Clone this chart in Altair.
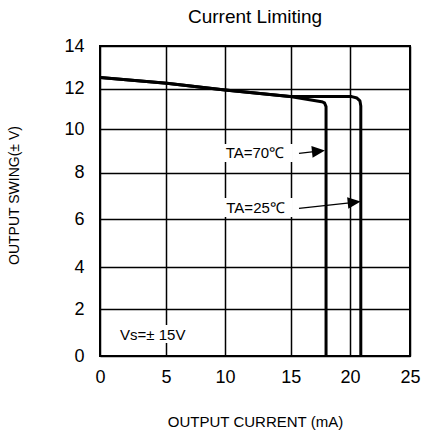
import altair as alt
import pandas as pd

# ---- data ----
x_ticks = [0, 5, 10, 15, 20, 25]
y_ticks = [0, 2, 4, 6, 8, 10, 12, 14]

# TA = 70 C curve (output current mA, output swing V)
current_70 = [0, 5.06, 10, 14.95, 17.61, 17.85, 17.98, 17.98]
swing_70 = [12.53, 12.25, 11.94, 11.62, 11.36, 11.30, 11.12, 0]

# TA = 25 C curve
current_25 = [0, 5.06, 10, 14.95, 20.14, 20.58, 20.83, 20.9, 20.9]
swing_25 = [12.53, 12.25, 11.94, 11.62, 11.61, 11.54, 11.40, 11.15, 0]

labels = ["TA=70℃", "TA=25℃", "Vs=± 15V"]
label_x = [10.05, 10.1, 1.52]
label_y = [8.91, 6.48, 0.89]

# label background boxes
box_x = [9.75, 9.75, 1.14]
box_x2 = [15.19, 15.19, 7.46]
box_y = [8.49, 6.10, 0.55]
box_y2 = [9.32, 6.91, 1.32]

# arrows: start point, head point
arrow_x = [15.70, 15.70]
arrow_y = [8.89, 6.47]
arrow_hx = [17.34, 20.35]
arrow_hy = [8.99, 6.73]

# ---- layout (hand-drawn uneven grid of the original) ----
x_range = [0, 66, 125, 190.7, 250, 310]
y_range = [310, 263, 221.3, 173.3, 126.7, 83.3, 42.7, 0]

FONT = "Liberation Sans"

x_scale = alt.Scale(domain=x_ticks, range=x_range, nice=False)
y_scale = alt.Scale(domain=y_ticks, range=y_range, nice=False)

x_axis = alt.Axis(values=x_ticks, grid=True, gridColor="black", gridWidth=1.5, gridOpacity=1,
                  domain=False, ticks=False, labelFont=FONT, labelFontSize=18, labelColor="black",
                  labelPadding=12, labelFlush=False, labelOverlap=False,
                  title="OUTPUT CURRENT (mA)", titleFont=FONT, titleFontSize=15,
                  titleFontWeight="normal", titleColor="black", titleY=70, titleBaseline="alphabetic")
y_axis = alt.Axis(values=y_ticks, grid=True, gridColor="black", gridWidth=1.5, gridOpacity=1,
                  domain=False, ticks=False, labelFont=FONT, labelFontSize=18, labelColor="black",
                  labelPadding=16, labelFlush=False, labelOverlap=False,
                  title="OUTPUT SWING(± V)", titleFont=FONT, titleFontSize=14,
                  titleFontWeight="normal", titleColor="black", titleX=-79, titleY=149,
                  titleBaseline="bottom", titleAngle=270)

curves = pd.DataFrame({
    "x": current_70 + current_25,
    "y": swing_70 + swing_25,
    "series": ["70"] * len(current_70) + ["25"] * len(current_25),
    "order": list(range(len(current_70))) + list(range(len(current_25))),
})
texts = pd.DataFrame({"x": label_x, "y": label_y, "label": labels})
boxes = pd.DataFrame({"x": box_x, "x2": box_x2, "y": box_y, "y2": box_y2})
arrows = pd.DataFrame({"x": arrow_x, "y": arrow_y, "x2": arrow_hx, "y2": arrow_hy})
heads = pd.DataFrame({"x": arrow_hx, "y": arrow_hy})

X = alt.X("x:Q", scale=x_scale, axis=x_axis)
Y = alt.Y("y:Q", scale=y_scale, axis=y_axis)

line_layer = alt.Chart(curves).mark_line(color="black", strokeWidth=3, strokeJoin="round",
                                         clip=True).encode(
    x=X, y=Y, detail="series:N", order="order:Q")

box_layer = alt.Chart(boxes).mark_rect(color="white", opacity=1).encode(
    x=X, x2="x2:Q", y=Y, y2="y2:Q")

text_layer = alt.Chart(texts).mark_text(font=FONT, fontSize=15, color="black", align="left",
                                        baseline="middle").encode(x=X, y=Y, text="label:N")

shaft_layer = alt.Chart(arrows).mark_rule(color="black", strokeWidth=1.2).encode(
    x=X, y=Y, x2="x2:Q", y2="y2:Q")

head_layer = alt.Chart(heads).mark_point(shape="M-1,-0.9L1,0L-1,0.9Z", filled=True, size=169,
                                         color="black", opacity=1, angle=354).encode(x=X, y=Y)

chart = alt.layer(box_layer, line_layer, text_layer, shaft_layer, head_layer).properties(
    width=310, height=310,
    autosize=alt.AutoSizeParams(type="none"),
    padding={"left": 100, "top": 46, "right": 18, "bottom": 81},
    title=alt.TitleParams("Current  Limiting", font=FONT, fontSize=19, fontWeight="normal",
                          color="black", offset=19, dy=24, baseline="alphabetic", anchor="middle"),
    background="white",
).configure_view(stroke="black", strokeWidth=2)

chart.save("out.html", embed_options={"renderer": "svg", "actions": False})
